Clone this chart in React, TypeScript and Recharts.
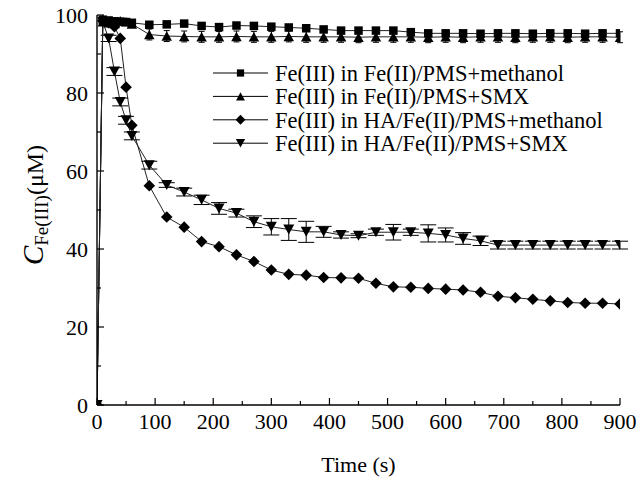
import React from 'react';
import { LineChart, Line, XAxis, YAxis, ErrorBar, Legend } from 'recharts';

const times = [0, 10, 20, 30, 40, 50, 60, 90, 120, 150, 180, 210, 240, 270, 300, 330, 360, 390, 420, 450, 480, 510, 540, 570, 600, 630, 660, 690, 720, 750, 780, 810, 840, 870, 900];
const feMethanol = [0, 98.8, 98.6, 98.4, 98.3, 98.2, 98.0, 97.5, 97.6, 97.8, 97.2, 96.9, 97.3, 97.2, 97.0, 96.8, 96.6, 96.3, 96.0, 96.0, 96.0, 96.0, 95.6, 95.3, 95.3, 95.3, 95.2, 95.3, 95.3, 95.2, 95.3, 95.3, 95.2, 95.3, 95.3];
const feSMX = [0, 98.3, 98.0, 97.8, 98.5, 98.3, 97.7, 95.0, 94.6, 94.5, 94.4, 94.4, 94.5, 94.4, 94.4, 94.5, 94.4, 94.4, 94.4, 94.3, 94.4, 94.4, 94.4, 94.3, 94.4, 94.3, 94.4, 94.4, 94.3, 94.4, 94.4, 94.3, 94.4, 94.4, 94.3];
const haMethanol = [0, 98.5, 98.0, 97.0, 94.0, 81.5, 71.7, 56.2, 48.2, 45.6, 41.9, 40.6, 38.5, 36.8, 34.6, 33.5, 33.3, 32.7, 32.6, 32.5, 31.2, 30.3, 30.2, 29.9, 29.7, 29.5, 28.9, 27.9, 27.5, 27.1, 26.7, 26.3, 26.1, 26.1, 25.9];
const haSMX = [0, 98.2, 94.0, 85.5, 77.7, 73.0, 69.0, 61.5, 56.4, 54.6, 52.6, 50.4, 49.2, 47.0, 45.7, 45.0, 44.4, 44.4, 43.6, 43.4, 44.3, 44.3, 44.3, 44.0, 43.6, 42.7, 42.1, 41.0, 41.0, 41.0, 41.0, 41.0, 41.0, 41.0, 41.0];
const feSMXErr = [0, 0.5, 0.5, 0.5, 0.5, 0.5, 0.5, 1.4, 1.4, 1.4, 1.4, 1.4, 1.4, 1.4, 1.4, 1.4, 1.4, 1.4, 1.4, 1.4, 1.4, 1.4, 1.4, 1.4, 1.4, 1.4, 1.4, 1.4, 1.4, 1.4, 1.4, 1.4, 1.4, 1.4, 1.4];
const haSMXErr = [0, 0, 0.8, 1, 1, 1, 1, 1, 0.6, 1, 1.2, 1.5, 1, 1.5, 2.1, 2.8, 2.7, 1.4, 0.8, 0.5, 0.8, 2, 0.8, 2.2, 1.8, 1.5, 1.2, 1, 1, 1, 1, 1, 1, 1, 1];

const xTicks = [0, 50, 100, 150, 200, 250, 300, 350, 400, 450, 500, 550, 600, 650, 700, 750, 800, 850, 900];
const yTicks = [0, 10, 20, 30, 40, 50, 60, 70, 80, 90, 100];
const legendLabels = [
  'Fe(III) in Fe(II)/PMS+methanol',
  'Fe(III) in Fe(II)/PMS+SMX',
  'Fe(III) in HA/Fe(II)/PMS+methanol',
  'Fe(III) in HA/Fe(II)/PMS+SMX',
];

const data = times.map((t, i) => ({
  t,
  a: feMethanol[i],
  b: feSMX[i],
  bErr: feSMXErr[i],
  c: haMethanol[i],
  d: haSMX[i],
  dErr: haSMXErr[i],
}));

const FONT = "'Liberation Serif', 'Times New Roman', serif";
const INK = '#000';
const txt = { fontFamily: FONT };

const shape = (kind: number, cx: number, cy: number, scale: number, key?: string) => {
  if (kind === 0) {
    const s = 8.5 * scale;
    return <rect key={key} x={cx - s / 2} y={cy - s / 2} width={s} height={s} fill={INK} />;
  }
  if (kind === 1) {
    const w = 10.5 * scale, h = 9.5 * scale;
    return <polygon key={key} points={`${cx},${cy - h / 2} ${cx - w / 2},${cy + h / 2} ${cx + w / 2},${cy + h / 2}`} fill={INK} />;
  }
  if (kind === 2) {
    const r = 5.8 * scale;
    return <polygon key={key} points={`${cx},${cy - r} ${cx + r},${cy} ${cx},${cy + r} ${cx - r},${cy}`} fill={INK} />;
  }
  const w = 11 * scale, h = 10 * scale;
  return <polygon key={key} points={`${cx - w / 2},${cy - h / 2} ${cx + w / 2},${cy - h / 2} ${cx},${cy + h / 2}`} fill={INK} />;
};

const makeDot = (kind: number) => (props: any) => {
  const { cx, cy, index } = props;
  if (cx == null || cy == null) return <g key={`n-${kind}-${index}`} />;
  return shape(kind, cx, cy, 1, `d-${kind}-${index}`);
};

const BottomTick = (props: any) => {
  const { x, y, payload } = props;
  const v = payload.value;
  const major = v % 100 === 0;
  return (
    <g>
      <line x1={x} x2={x} y1={y} y2={y - (major ? 7 : 4)} stroke={INK} strokeWidth={1.2} />
      {major && (
        <text x={x} y={y + 24} textAnchor="middle" fontSize={22} style={txt} fill={INK}>
          {v}
        </text>
      )}
    </g>
  );
};

const TopTick = (props: any) => {
  const { x, y, payload } = props;
  const major = payload.value % 100 === 0;
  return <line x1={x} x2={x} y1={y} y2={y + (major ? 7 : 4)} stroke={INK} strokeWidth={1.2} />;
};

const LeftTick = (props: any) => {
  const { x, y, payload } = props;
  const v = payload.value;
  const major = v % 20 === 0;
  return (
    <g>
      <line x1={x} x2={x + (major ? 7 : 4)} y1={y} y2={y} stroke={INK} strokeWidth={1.2} />
      {major && (
        <text x={x - 9} y={y} dy="0.35em" textAnchor="end" fontSize={22} style={txt} fill={INK}>
          {v}
        </text>
      )}
    </g>
  );
};

const RightTick = (props: any) => {
  const { x, y, payload } = props;
  const major = payload.value % 20 === 0;
  return <line x1={x} x2={x - (major ? 7 : 4)} y1={y} y2={y} stroke={INK} strokeWidth={1.2} />;
};

const renderLegend = (props: any) => {
  const payload = props.payload || [];
  return (
    <svg width={430} height={100} style={{ display: 'block' }}>
      {payload.map((p: any, i: number) => {
        const idx = legendLabels.indexOf(p.value);
        const k = idx >= 0 ? idx : i;
        const cy = 15 + k * 23.4;
        return (
          <g key={`lg-${k}`}>
            <line x1={8} x2={63} y1={cy} y2={cy} stroke={INK} strokeWidth={1} />
            {shape(k, 35.5, cy, 0.85)}
            <text x={70} y={cy} dy="0.35em" fontSize={22.5} style={txt} fill={INK}>
              {p.value}
            </text>
          </g>
        );
      })}
    </svg>
  );
};

const YLabel = () => (
  <text transform="rotate(-90, 43, 205)" x={43} y={205} textAnchor="middle" style={txt} fill={INK}>
    <tspan fontStyle="italic" fontSize={29}>C</tspan>
    <tspan fontSize={19} dy={5}>Fe(III)</tspan>
    <tspan fontSize={24} dy={-5}>(μM)</tspan>
  </text>
);

const XLabel = (props: any) => {
  const vb = props.viewBox || { x: 97, width: 523 };
  return (
    <text x={vb.x + vb.width / 2} y={472} textAnchor="middle" fontSize={22} style={txt} fill={INK}>
      Time (s)
    </text>
  );
};

export default function App() {
  return (
    <div style={{ position: 'absolute', left: 0, top: 0, background: '#fff' }}>
      <LineChart width={639} height={481} data={data} margin={{ top: 15, right: 19, left: 0, bottom: 0 }}>
        <XAxis
          dataKey="t"
          type="number"
          domain={[0, 900]}
          ticks={xTicks}
          interval={0}
          allowDataOverflow
          height={76}
          tickSize={0}
          tickMargin={0}
          tickLine={false}
          tick={<BottomTick />}
          axisLine={{ stroke: INK, strokeWidth: 1.4 }}
          label={<XLabel />}
        />
        <XAxis
          xAxisId="top"
          orientation="top"
          dataKey="t"
          type="number"
          domain={[0, 900]}
          ticks={xTicks}
          interval={0}
          allowDataOverflow
          height={0}
          tickSize={0}
          tickMargin={0}
          tickLine={false}
          tick={<TopTick />}
          axisLine={{ stroke: INK, strokeWidth: 1.4 }}
        />
        <YAxis
          type="number"
          domain={[0, 100]}
          ticks={yTicks}
          interval={0}
          allowDataOverflow
          width={97}
          tickSize={0}
          tickMargin={0}
          tickLine={false}
          tick={<LeftTick />}
          axisLine={{ stroke: INK, strokeWidth: 1.4 }}
          label={<YLabel />}
        />
        <YAxis
          yAxisId="right"
          orientation="right"
          type="number"
          domain={[0, 100]}
          ticks={yTicks}
          interval={0}
          allowDataOverflow
          width={0}
          tickSize={0}
          tickMargin={0}
          tickLine={false}
          tick={<RightTick />}
          axisLine={{ stroke: INK, strokeWidth: 1.4 }}
        />
        <Legend
          layout="vertical"
          align="center"
          verticalAlign="middle"
          wrapperStyle={{ left: 205, top: 58, width: 430 }}
          content={renderLegend}
        />
        <Line
          name={legendLabels[0]}
          dataKey="a"
          type="linear"
          stroke="#222"
          strokeWidth={1}
          dot={makeDot(0)}
          activeDot={false}
          isAnimationActive={false}
        />
        <Line
          name={legendLabels[1]}
          dataKey="b"
          type="linear"
          stroke="#222"
          strokeWidth={1}
          dot={makeDot(1)}
          activeDot={false}
          isAnimationActive={false}
        >
          <ErrorBar dataKey="bErr" width={3} stroke={INK} strokeWidth={1} direction="y" isAnimationActive={false} />
        </Line>
        <Line
          name={legendLabels[2]}
          dataKey="c"
          type="linear"
          stroke="#222"
          strokeWidth={1}
          dot={makeDot(2)}
          activeDot={false}
          isAnimationActive={false}
        />
        <Line
          name={legendLabels[3]}
          dataKey="d"
          type="linear"
          stroke="#222"
          strokeWidth={1}
          dot={makeDot(3)}
          activeDot={false}
          isAnimationActive={false}
        >
          <ErrorBar dataKey="dErr" width={8} stroke={INK} strokeWidth={1} direction="y" isAnimationActive={false} />
        </Line>
      </LineChart>
    </div>
  );
}
